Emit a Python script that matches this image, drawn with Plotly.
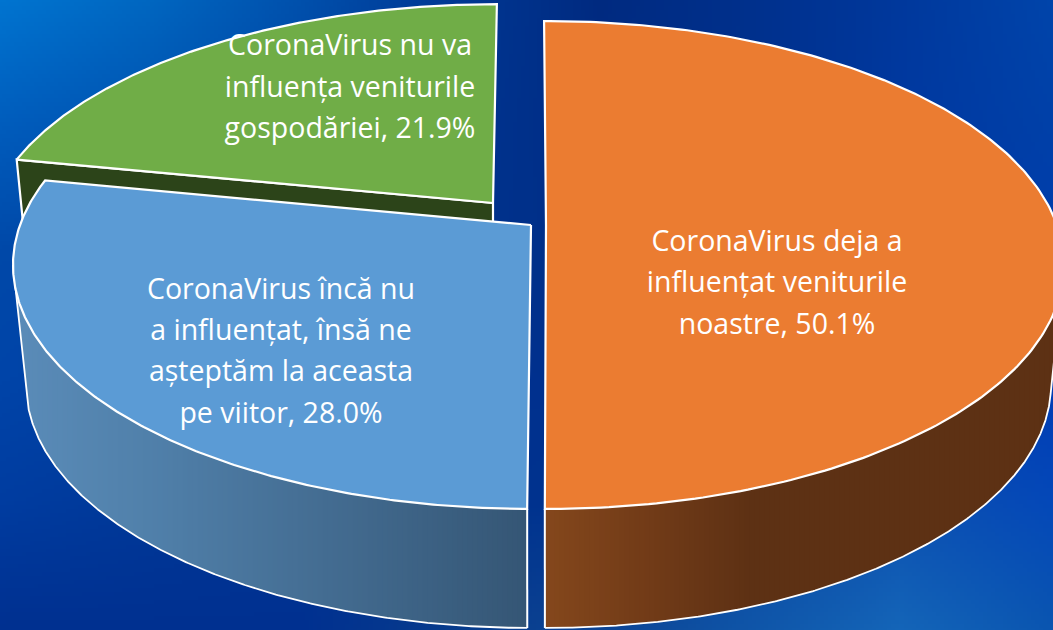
import base64, struct, zlib
import numpy as np
import plotly.graph_objects as go

# ---- data
categories = ["deja", "inca", "nu"]
shares = [50.1, 28.0, 21.9]
labels_orange = ["CoronaVirus deja a", "influențat veniturile", "noastre, 50.1%"]
labels_blue = ["CoronaVirus încă nu", "a influențat, însă ne", "așteptăm la aceasta", "pe viitor, 28.0%"]
labels_green = ["CoronaVirus nu va", "influența veniturile", "gospodăriei, 21.9%"]

# ---- pie projection (perspective disc, tilted and extruded)
W, H = 1053, 630
R, HT, K = 511.0, 237.4, 0.164
DROP, BOT_X = 119.0, 0.975
FONT = "Open Sans"
FS = 28.5

def hexrgb(c):
    return np.array([int(c[i:i+2], 16) for i in (1, 3, 5)], float)

def proj(t, ax, ay, s=1.0, sx=None, rot=0.0, lean=0.0, bottom=False):
    a = np.radians(np.asarray(t, float) + rot)
    u, v = np.sin(a), np.cos(a)
    w = 1 + K * v
    scx = (sx if sx else s) * (BOT_X if bottom else 1.0)
    x = ax + scx * (R * u + lean * v) / w
    y = ay + (DROP if bottom else 0) - s * HT * v / w
    return x, y

# ---- background
bg_x = [0, 150, 300, 450, 600, 750, 900, 1053]
bg_y = [0, 126, 252, 378, 504, 630]
bg_rows = [
    ["#0074d0", "#0066c0", "#0050ac", "#003894", "#002a80", "#00308c", "#00389c", "#0044aa"],
    ["#005cbc", "#0052b0", "#0044a4", "#003490", "#002c84", "#00308c", "#0038a0", "#0040a8"],
    ["#0048a8", "#0044a4", "#003c98", "#00328c", "#002e88", "#00308c", "#0038a4", "#003cac"],
    ["#0044a8", "#0040a4", "#00389c", "#003090", "#00308c", "#0034a0", "#003cb0", "#003cb4"],
    ["#003ca0", "#003898", "#003494", "#00308c", "#003490", "#0a48a4", "#0c50b0", "#0448b8"],
    ["#003090", "#003090", "#003090", "#083c8c", "#0c4494", "#0f55a8", "#1465b8", "#0a55b0"],
]
px, py = np.linspace(0, W, 264), np.linspace(0, H, 158)
grid = np.array([[hexrgb(c) for c in r] for r in bg_rows])
tmp = np.stack([[np.interp(px, bg_x, grid[j, :, k]) for j in range(len(bg_y))] for k in range(3)], axis=-1)
img = np.stack([[np.interp(py, bg_y, tmp[:, i, k]) for i in range(len(px))] for k in range(3)], axis=-1)
img = np.transpose(img, (1, 0, 2)).round().astype(np.uint8)
raw = b"".join(b"\x00" + row.tobytes() for row in img)
def chunk(t, d):
    return struct.pack(">I", len(d)) + t + d + struct.pack(">I", zlib.crc32(t + d) & 0xffffffff)
png = (b"\x89PNG\r\n\x1a\n" + chunk(b"IHDR", struct.pack(">IIBBBBB", img.shape[1], img.shape[0], 8, 2, 0, 0, 0))
       + chunk(b"IDAT", zlib.compress(raw)) + chunk(b"IEND", b""))
bg_uri = "data:image/png;base64," + base64.b64encode(png).decode()

fig = go.Figure()

def poly(xs, ys, fill=None, line="#ffffff", lw=2.2):
    fig.add_trace(go.Scatter(
        x=list(xs), y=list(ys), mode="lines", hoverinfo="skip", showlegend=False,
        fill="toself" if fill else "none", fillcolor=fill,
        line=dict(color=line, width=lw)))

cum = np.cumsum([0] + shares) / sum(shares) * 360
a_orange, a_blue, a_green = (cum[0], cum[1]), (cum[1], cum[2]), (cum[2], cum[3])
TAN = np.degrees(np.arcsin(K))  # silhouette angle offset from the side of the disc

def top_face(span, color, **g):
    t = np.linspace(span[0], span[1], 240)
    x, y = proj(t, **g)
    poly(np.r_[g["ax"], x, g["ax"]], np.r_[g["ay"], y, g["ay"]], fill=color)

def wall(t0, t1, stops, step=5.0, overlap=4.0, **g):
    """Side wall drawn as overlapping vertical bands whose colour follows x."""
    t = np.linspace(t0, t1, 400)
    xt, yt = proj(t, **g)
    xb, yb = proj(t, bottom=True, **g)
    xa, ya = proj(t0, **g)          # silhouette: top tangent point
    lx, ly = np.r_[xa, xb], np.r_[ya, yb]
    ot, ol = np.argsort(xt), np.argsort(lx)
    sx = [p[0] for p in stops]
    sc = np.array([hexrgb(p[1]) for p in stops])
    lo, hi = max(min(lx.min(), xt.min()), 0), min(max(lx.max(), xt.max()), W)
    edges = np.arange(lo, hi, step)
    for a in edges:
        b = min(a + step + overlap, hi)
        xs = np.linspace(a, b, 4)
        uy = np.interp(xs, xt[ot], yt[ot])
        dy = np.interp(xs, lx[ol], ly[ol])
        col = [np.interp(a + step / 2, sx, sc[:, k]) for k in range(3)]
        col = "rgb(%d,%d,%d)" % tuple(int(round(c)) for c in col)
        poly(np.r_[xs, xs[::-1]], np.r_[uy, dy[::-1]], fill=col, line=col, lw=0)
    poly(lx, ly, lw=1.8)
    xe, ye = proj(t1, **g)
    xf, yf = proj(t1, bottom=True, **g)
    poly([xe, xf], [ye, yf], lw=2.0)

g_green = dict(ax=493.0, ay=203.0, s=0.975, sx=0.982, lean=4.6)
g_blue = dict(ax=531.0, ay=225.0)
g_orange = dict(ax=546.0, ay=225.0, rot=-0.25)

# green: dark cut face then top
xa, ya = proj(a_green[0], **g_green)
xb, yb = proj(a_green[0], bottom=True, **g_green)
poly([g_green["ax"], xa, xb, g_green["ax"], g_green["ax"]],
     [g_green["ay"], ya, yb, g_green["ay"] + DROP, g_green["ay"]], fill="#2c4419")
top_face(a_green, "#70ad47", **g_green)

# blue
wall(270 - TAN, a_blue[0], [(20, "#5a8bb8"), (150, "#5080aa"), (527, "#355675")], **g_blue)
top_face(a_blue, "#5b9bd5", **g_blue)

# orange
wall(90 + TAN, a_orange[1], [(545, "#84471c"), (640, "#733c18"), (750, "#5d3114"), (1053, "#5d3114")], **g_orange)
top_face(a_orange, "#eb7c31", **g_orange)

# labels
def labels(lines, xc, ys):
    fig.add_trace(go.Scatter(
        x=[xc] * len(lines), y=ys, text=lines, mode="text", textposition="middle center",
        hoverinfo="skip", showlegend=False,
        textfont=dict(family=FONT, size=FS, color="#ffffff")))

labels(labels_orange, 777, [244, 285, 327])
labels(labels_blue, 281, [292, 333, 374, 416])
labels(labels_green, 350, [48, 90, 131])

fig.update_layout(
    width=W, height=H, margin=dict(l=0, r=0, t=0, b=0), showlegend=False,
    paper_bgcolor="#00308c", plot_bgcolor="rgba(0,0,0,0)",
    xaxis=dict(range=[0, W], visible=False, fixedrange=True),
    yaxis=dict(range=[H, 0], visible=False, fixedrange=True),
    images=[dict(source=bg_uri, xref="paper", yref="paper", x=0, y=1, sizex=1, sizey=1,
                 xanchor="left", yanchor="top", sizing="stretch", layer="below")],
)
fig.write_html("out.html", config=dict(displayModeBar=False),
               post_script="document.body.style.margin='0';document.body.style.overflow='hidden';")
